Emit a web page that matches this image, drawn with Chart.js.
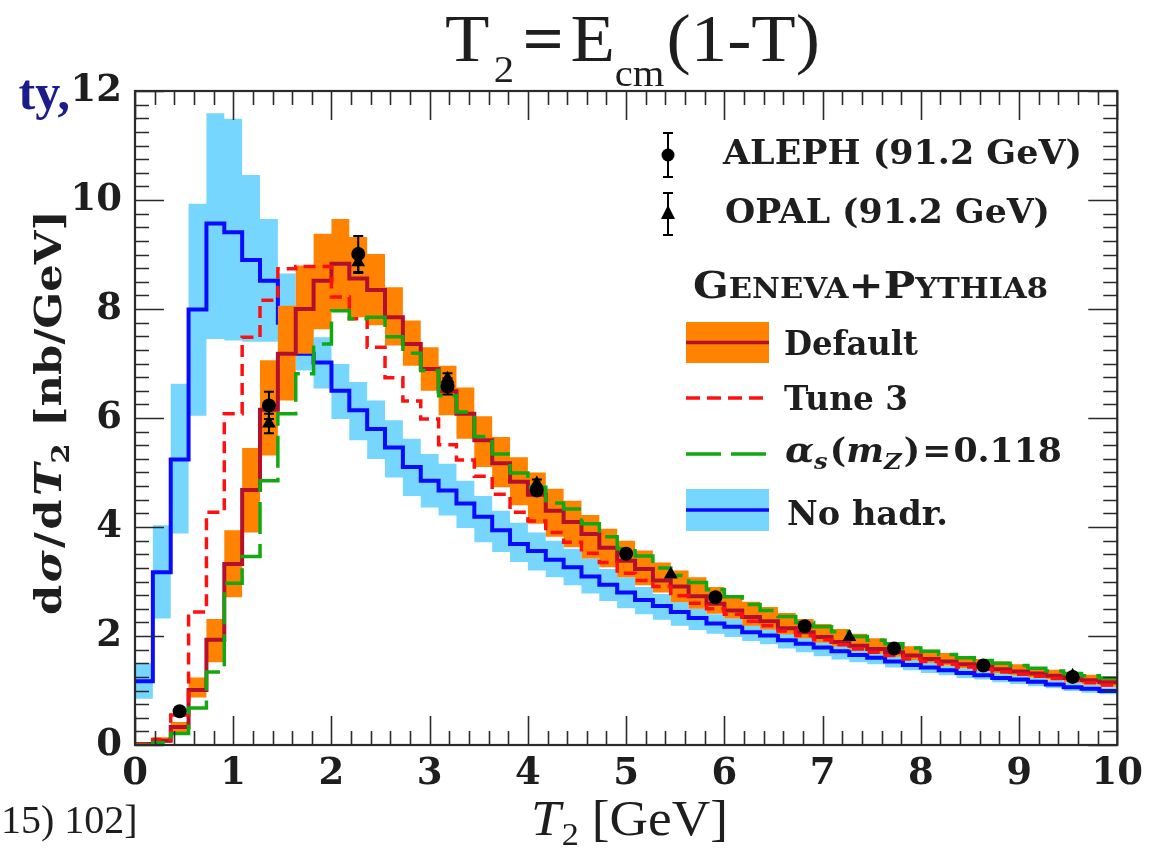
<!DOCTYPE html>
<html>
<head>
<meta charset="utf-8">
<script src="https://cdn.jsdelivr.net/npm/chart.js@4.4.0/dist/chart.umd.min.js"></script>
<style>
  html, body { margin: 0; padding: 0; background: #fff; }
  #wrap { position: relative; width: 1150px; height: 862px; }
</style>
</head>
<body>
<div id="wrap"><canvas id="chart" width="1150" height="862"></canvas></div>
<script>
// histogram binning: 55 bins between 0 and 10 GeV
var nBins = 55;
var tMin = 0, tMax = 10;

var xTickValues = [0, 1, 2, 3, 4, 5, 6, 7, 8, 9, 10];
var yTickValues = [0, 2, 4, 6, 8, 10, 12];

// No hadronization (blue line + light blue band)
var noHadr = [1.17, 3.17, 5.24, 7.99, 9.57, 9.41, 8.90, 8.52, 7.75, 7.18, 7.02, 6.50, 6.14, 5.80, 5.46, 5.10, 4.85, 4.67, 4.43, 4.19,
  3.94, 3.69, 3.56, 3.40, 3.26, 3.09, 2.94, 2.80, 2.66, 2.55, 2.44, 2.33, 2.23, 2.17, 2.07, 2.01, 1.92, 1.86, 1.79, 1.72,
  1.65, 1.60, 1.53, 1.47, 1.42, 1.37, 1.32, 1.28, 1.23, 1.20, 1.16, 1.11, 1.06, 1.03, 0.99];
var noHadrLo = [0.85, 2.32, 3.88, 6.04, 7.45, 7.42, 7.40, 7.40, 7.25, 6.87, 6.54, 5.98, 5.59, 5.25, 4.91, 4.57, 4.36, 4.21, 3.98, 3.72,
  3.54, 3.36, 3.20, 3.08, 2.93, 2.78, 2.64, 2.51, 2.40, 2.30, 2.19, 2.11, 2.04, 1.98, 1.91, 1.85, 1.77, 1.70, 1.63, 1.57,
  1.52, 1.48, 1.42, 1.37, 1.32, 1.28, 1.23, 1.20, 1.15, 1.12, 1.08, 1.04, 0.99, 0.96, 0.93];
var noHadrHi = [1.50, 4.03, 6.63, 9.93, 11.59, 11.49, 10.46, 9.65, 8.65, 7.75, 7.48, 6.99, 6.66, 6.32, 5.96, 5.62, 5.34, 5.16, 4.85, 4.57,
  4.30, 4.08, 3.90, 3.75, 3.60, 3.42, 3.23, 3.08, 2.90, 2.77, 2.62, 2.50, 2.40, 2.32, 2.22, 2.14, 2.05, 1.98, 1.90, 1.83,
  1.76, 1.70, 1.63, 1.57, 1.52, 1.46, 1.41, 1.37, 1.32, 1.28, 1.24, 1.19, 1.14, 1.10, 1.06];

// Geneva+Pythia8 default (dark red line + orange band)
var defaultVals = [0.02, 0.08, 0.33, 1.01, 1.93, 3.32, 4.68, 6.15, 7.18, 8.00, 8.52, 8.83, 8.56, 8.35, 7.85, 7.36, 6.90, 6.49, 6.08, 5.59,
  5.17, 4.83, 4.59, 4.30, 4.09, 3.87, 3.62, 3.38, 3.23, 3.02, 2.91, 2.73, 2.59, 2.47, 2.35, 2.27, 2.14, 2.07, 1.98, 1.89,
  1.82, 1.76, 1.70, 1.64, 1.58, 1.53, 1.48, 1.44, 1.39, 1.35, 1.31, 1.27, 1.23, 1.19, 1.15];
var defaultLo = [0.00, 0.04, 0.23, 0.87, 1.52, 2.71, 3.90, 5.31, 6.32, 7.18, 7.63, 7.97, 7.85, 7.70, 7.33, 6.96, 6.50, 6.05, 5.62, 5.10,
  4.73, 4.40, 4.06, 3.82, 3.63, 3.42, 3.26, 3.08, 2.93, 2.80, 2.62, 2.50, 2.41, 2.32, 2.19, 2.12, 2.03, 1.96, 1.88, 1.81,
  1.74, 1.68, 1.62, 1.56, 1.51, 1.46, 1.41, 1.37, 1.32, 1.28, 1.24, 1.20, 1.15, 1.11, 1.07];
var defaultHi = [0.04, 0.14, 0.42, 1.24, 2.31, 3.94, 5.45, 7.06, 8.06, 8.80, 9.38, 9.65, 9.32, 9.01, 8.40, 7.79, 7.30, 6.96, 6.56, 6.03,
  5.65, 5.28, 5.00, 4.70, 4.48, 4.22, 3.97, 3.75, 3.57, 3.35, 3.20, 3.08, 2.90, 2.75, 2.63, 2.53, 2.42, 2.31, 2.22, 2.13,
  2.04, 1.96, 1.89, 1.81, 1.75, 1.69, 1.63, 1.58, 1.53, 1.48, 1.43, 1.38, 1.33, 1.29, 1.25];

// Tune 3 (red dashed)
var tune3 = [0.02, 0.10, 0.55, 2.44, 4.27, 6.08, 7.48, 8.16, 8.74, 8.78, 8.78, 8.22, 7.82, 7.30, 6.74, 6.31, 5.98, 5.51, 5.23, 4.93,
  4.60, 4.27, 4.11, 3.90, 3.72, 3.52, 3.35, 3.15, 3.02, 2.91, 2.74, 2.60, 2.50, 2.40, 2.27, 2.19, 2.09, 2.01, 1.93, 1.84,
  1.76, 1.70, 1.64, 1.58, 1.53, 1.48, 1.43, 1.39, 1.34, 1.30, 1.26, 1.22, 1.18, 1.14, 1.10];

// alpha_s(mZ) = 0.118 (green long dashes)
var alphas118 = [0.00, 0.04, 0.21, 0.68, 1.34, 2.97, 3.46, 4.85, 6.08, 6.81, 7.36, 7.97, 7.82, 7.85, 7.49, 7.19, 6.87, 6.41, 6.11, 5.66,
  5.34, 4.99, 4.73, 4.44, 4.33, 4.06, 3.82, 3.60, 3.47, 3.25, 3.11, 2.98, 2.85, 2.72, 2.58, 2.47, 2.36, 2.25, 2.17, 2.08,
  1.99, 1.92, 1.86, 1.78, 1.72, 1.66, 1.60, 1.55, 1.50, 1.46, 1.41, 1.36, 1.31, 1.27, 1.23];

// data
var alephX = [0.4545, 1.3636, 2.2727, 3.1818, 4.0909, 5.0, 5.9091, 6.8182, 7.7273, 8.6364, 9.5455];
var alephY = [0.62, 6.23, 9.01, 6.58, 4.67, 3.51, 2.71, 2.18, 1.77, 1.46, 1.25];
var alephErr = [0.06, 0.25, 0.33, 0.15, 0.08, 0.05, 0.04, 0.04, 0.03, 0.03, 0.03];
var opalX = [1.3636, 2.2727, 3.1818, 4.0909, 5.4545, 7.2727, 9.5455];
var opalY = [5.90, 8.86, 6.72, 4.80, 3.13, 1.98, 1.27];
var opalErr = [0.18, 0.20, 0.10, 0.07, 0.04, 0.03, 0.03];

var lightBlue = '#76d6fe', orange = '#ff8200', blue = '#0a0aff', darkRed = '#b4102e', red = '#ff1010', green = '#12a812';
var ink = '#1e1e1e';

function histPoints(vals) {
  var w = (tMax - tMin) / nBins;
  var pts = vals.map(function (v, i) { return { x: tMin + i * w, y: v }; });
  pts.push({ x: tMax, y: vals[vals.length - 1] });
  return pts;
}
function xyPoints(xs, ys) {
  return xs.map(function (x, i) { return { x: x, y: ys[i] }; });
}

var hidden = 'rgba(0,0,0,0)';
var datasets = [
  { data: histPoints(noHadrLo), stepped: true, borderColor: hidden, borderWidth: 1, pointRadius: 0, fill: false, order: 20 },
  { data: histPoints(noHadrHi), stepped: true, borderColor: hidden, borderWidth: 1, pointRadius: 0, fill: '-1', backgroundColor: lightBlue, order: 19 },
  { data: histPoints(noHadr), stepped: true, borderColor: blue, borderWidth: 4, pointRadius: 0, fill: false, order: 18 },
  { data: histPoints(defaultLo), stepped: true, borderColor: hidden, borderWidth: 1, pointRadius: 0, fill: false, order: 17 },
  { data: histPoints(defaultHi), stepped: true, borderColor: hidden, borderWidth: 1, pointRadius: 0, fill: '-1', backgroundColor: orange, order: 16 },
  { data: histPoints(defaultVals), stepped: true, borderColor: darkRed, borderWidth: 4, pointRadius: 0, fill: false, order: 15 },
  { data: histPoints(tune3), stepped: true, borderColor: red, borderWidth: 3.5, borderDash: [12, 7], pointRadius: 0, fill: false, order: 14 },
  { data: histPoints(alphas118), stepped: true, borderColor: green, borderWidth: 3.5, borderDash: [32, 10], pointRadius: 0, fill: false, order: 13 },
  { data: xyPoints(alephX, alephY), showLine: false, pointStyle: 'circle', pointRadius: 7, pointBackgroundColor: '#000', pointBorderColor: '#000', pointBorderWidth: 0, order: 2 },
  { data: xyPoints(opalX, opalY), showLine: false, pointStyle: 'triangle', pointRadius: 8, pointBackgroundColor: '#000', pointBorderColor: '#000', pointBorderWidth: 0, order: 1 }
];

// draw a row of text pieces, optionally squeezed/stretched to a target width
function drawRuns(ctx, runs, x, y, width) {
  var total = 0;
  runs.forEach(function (r) {
    ctx.font = r.font;
    r.w = ctx.measureText(r.text).width + (r.gap || 0);
    total += r.w;
  });
  var sx = width ? width / total : 1;
  ctx.save();
  ctx.translate(x, y);
  ctx.scale(sx, 1);
  var cx = 0;
  runs.forEach(function (r) {
    ctx.font = r.font;
    ctx.fillStyle = r.color || ink;
    ctx.textBaseline = 'alphabetic';
    ctx.textAlign = 'left';
    ctx.fillText(r.text, cx, r.dy || 0);
    cx += r.w;
  });
  ctx.restore();
}

var errorBars = {
  id: 'errorBars',
  afterDatasetsDraw: function (chart) {
    var ctx = chart.ctx, xs = chart.scales.x, ys = chart.scales.y;
    ctx.save();
    ctx.strokeStyle = '#000';
    ctx.lineWidth = 2;
    function bar(xv, yv, ev) {
      var px = xs.getPixelForValue(xv);
      var p1 = ys.getPixelForValue(yv + ev), p2 = ys.getPixelForValue(yv - ev);
      ctx.beginPath();
      ctx.moveTo(px, p1); ctx.lineTo(px, p2);
      ctx.moveTo(px - 5, p1); ctx.lineTo(px + 5, p1);
      ctx.moveTo(px - 5, p2); ctx.lineTo(px + 5, p2);
      ctx.stroke();
    }
    alephX.forEach(function (x, i) { if (alephErr[i] > 0.05) bar(x, alephY[i], alephErr[i]); });
    opalX.forEach(function (x, i) { if (opalErr[i] > 0.05) bar(x, opalY[i], opalErr[i]); });
    ctx.restore();
  }
};

var frameTicks = {
  id: 'frameTicks',
  afterDatasetsDraw: function (chart) {
    var ctx = chart.ctx, a = chart.chartArea, xs = chart.scales.x, ys = chart.scales.y;
    ctx.save();
    ctx.strokeStyle = '#2a2a2a';
    ctx.lineWidth = 1.6;
    ctx.beginPath();
    for (var i = 0; i <= 50; i++) {
      var px = Math.round(xs.getPixelForValue(i * 0.2)) + 0.5;
      var len = (i % 5 === 0) ? 29 : 14;
      ctx.moveTo(px, a.bottom); ctx.lineTo(px, a.bottom - len);
      ctx.moveTo(px, a.top); ctx.lineTo(px, a.top + len);
    }
    for (var j = 0; j <= 48; j++) {
      var py = Math.round(ys.getPixelForValue(j * 0.25)) + 0.5;
      var l2 = (j % 8 === 0) ? 29 : 14;
      ctx.moveTo(a.left, py); ctx.lineTo(a.left + l2, py);
      ctx.moveTo(a.right, py); ctx.lineTo(a.right - l2, py);
    }
    ctx.stroke();
    ctx.lineWidth = 2.2;
    ctx.strokeRect(a.left, a.top, a.right - a.left, a.bottom - a.top);
    ctx.restore();
  }
};

var texts = {
  id: 'texts',
  afterDraw: function (chart) {
    var ctx = chart.ctx;
    ctx.save();
    // title
    var tf = '68px "Liberation Serif"', ts = '38px "Liberation Serif"';
    drawRuns(ctx, [
      { text: 'T', font: tf, gap: 4 },
      { text: '2', font: ts, dy: 21, gap: 8 },
      { text: '=', font: 'bold ' + tf, gap: 6 },
      { text: 'E', font: tf },
      { text: 'cm', font: ts, dy: 25, gap: 2 },
      { text: '(1-T)', font: tf }
    ], 445, 61, 375);
    // cropped slide fragments
    ctx.font = 'bold 50px "Liberation Serif"';
    ctx.fillStyle = '#1b1b8c';
    ctx.textAlign = 'right';
    ctx.fillText('ty,', 70, 109);
    ctx.textAlign = 'left';
    ctx.fillStyle = ink;
    ctx.font = '40px "Liberation Serif"';
    ctx.fillText('15) 102]', 1, 833);
    // x axis title
    drawRuns(ctx, [
      { text: 'T', font: 'italic 50px "Liberation Serif"', gap: 1 },
      { text: '2', font: '32px "Liberation Serif"', dy: 10, gap: 12 },
      { text: '[GeV]', font: '50px "Liberation Serif"' }
    ], 531, 835, 197);
    // y axis title
    ctx.save();
    ctx.translate(61, 615);
    ctx.rotate(-Math.PI / 2);
    var yb = 'bold 37px "DejaVu Serif"';
    drawRuns(ctx, [
      { text: 'd', font: yb, gap: 2 },
      { text: 'σ', font: 'italic ' + yb, gap: 2 },
      { text: '/', font: yb, gap: 2 },
      { text: 'd', font: yb, gap: 3 },
      { text: 'T', font: 'italic ' + yb },
      { text: '2', font: 'bold 25px "DejaVu Serif"', dy: 8, gap: 14 },
      { text: '[nb/GeV]', font: yb }
    ], 0, 0, 405);
    ctx.restore();

    // legend
    var lf = 'bold 33px "DejaVu Serif"';
    ctx.strokeStyle = '#000';
    ctx.fillStyle = '#000';
    ctx.lineWidth = 2;
    ctx.beginPath();
    ctx.moveTo(668, 133); ctx.lineTo(668, 177);
    ctx.moveTo(663, 133); ctx.lineTo(673, 133);
    ctx.moveTo(663, 177); ctx.lineTo(673, 177);
    ctx.moveTo(668, 193); ctx.lineTo(668, 235);
    ctx.moveTo(663, 193); ctx.lineTo(673, 193);
    ctx.moveTo(663, 235); ctx.lineTo(673, 235);
    ctx.stroke();
    ctx.beginPath(); ctx.arc(668, 155, 6.5, 0, Math.PI * 2); ctx.fill();
    ctx.beginPath(); ctx.moveTo(668, 205); ctx.lineTo(675, 219); ctx.lineTo(661, 219); ctx.closePath(); ctx.fill();
    drawRuns(ctx, [{ text: 'ALEPH (91.2 GeV)', font: lf }], 723, 164, 359);
    drawRuns(ctx, [{ text: 'OPAL (91.2 GeV)', font: lf }], 725, 223, 325);
    drawRuns(ctx, [
      { text: 'G', font: 'bold 37px "DejaVu Serif"' },
      { text: 'ENEVA', font: 'bold 27px "DejaVu Serif"' },
      { text: '+', font: 'bold 37px "DejaVu Serif"' },
      { text: 'P', font: 'bold 37px "DejaVu Serif"' },
      { text: 'YTHIA8', font: 'bold 27px "DejaVu Serif"' }
    ], 693, 298, 355);
    // Default
    ctx.fillStyle = orange; ctx.fillRect(686, 322, 83, 41);
    ctx.strokeStyle = darkRed; ctx.lineWidth = 3.5;
    ctx.beginPath(); ctx.moveTo(686, 342.5); ctx.lineTo(769, 342.5); ctx.stroke();
    drawRuns(ctx, [{ text: 'Default', font: lf }], 784, 355, 134);
    // Tune 3
    ctx.strokeStyle = red; ctx.lineWidth = 3.5; ctx.setLineDash([14, 7]);
    ctx.beginPath(); ctx.moveTo(686, 398); ctx.lineTo(765, 398); ctx.stroke();
    drawRuns(ctx, [{ text: 'Tune 3', font: lf }], 784, 410, 124);
    // alpha_s
    ctx.strokeStyle = green; ctx.setLineDash([35, 10]);
    ctx.beginPath(); ctx.moveTo(686, 454); ctx.lineTo(767, 454); ctx.stroke();
    ctx.setLineDash([]);
    drawRuns(ctx, [
      { text: 'α', font: 'italic bold 36px "DejaVu Serif"' },
      { text: 's', font: 'italic bold 23px "DejaVu Serif"', dy: 7, gap: 2 },
      { text: '(', font: lf },
      { text: 'm', font: 'italic bold 34px "DejaVu Serif"' },
      { text: 'Z', font: 'italic bold 23px "DejaVu Serif"', dy: 7, gap: 2 },
      { text: ')', font: lf, gap: 2 },
      { text: '=', font: lf, gap: 2 },
      { text: '0.118', font: lf }
    ], 785, 462, 277);
    // No hadr.
    ctx.fillStyle = lightBlue; ctx.fillRect(686, 489, 83, 42);
    ctx.strokeStyle = blue; ctx.lineWidth = 3.5;
    ctx.beginPath(); ctx.moveTo(686, 510); ctx.lineTo(769, 510); ctx.stroke();
    drawRuns(ctx, [{ text: 'No hadr.', font: lf }], 787, 525, 161);
    ctx.restore();
  }
};

var tickFont = { family: 'DejaVu Serif', size: 37, weight: 'bold' };

new Chart(document.getElementById('chart').getContext('2d'), {
  type: 'line',
  data: { datasets: datasets },
  options: {
    responsive: false,
    animation: false,
    devicePixelRatio: 1,
    layout: { padding: { top: 91, right: 28, left: 0, bottom: 0 } },
    plugins: {
      legend: { display: false },
      tooltip: { enabled: false },
      title: { display: false },
      filler: { drawTime: 'beforeDatasetDraw' }
    },
    scales: {
      x: {
        type: 'linear', min: tMin, max: tMax,
        grid: { display: false, drawTicks: false },
        border: { display: false },
        afterBuildTicks: function (s) { s.ticks = xTickValues.map(function (v) { return { value: v }; }); },
        afterFit: function (s) { s.height = 117; },
        ticks: { font: tickFont, color: ink, padding: 7, maxRotation: 0, autoSkip: false }
      },
      y: {
        type: 'linear', min: 0, max: 12,
        grid: { display: false, drawTicks: false },
        border: { display: false },
        afterBuildTicks: function (s) { s.ticks = yTickValues.map(function (v) { return { value: v }; }); },
        afterFit: function (s) { s.width = 135; },
        ticks: { font: tickFont, color: ink, padding: 13 }
      }
    }
  },
  plugins: [errorBars, frameTicks, texts]
});
</script>
</body>
</html>
